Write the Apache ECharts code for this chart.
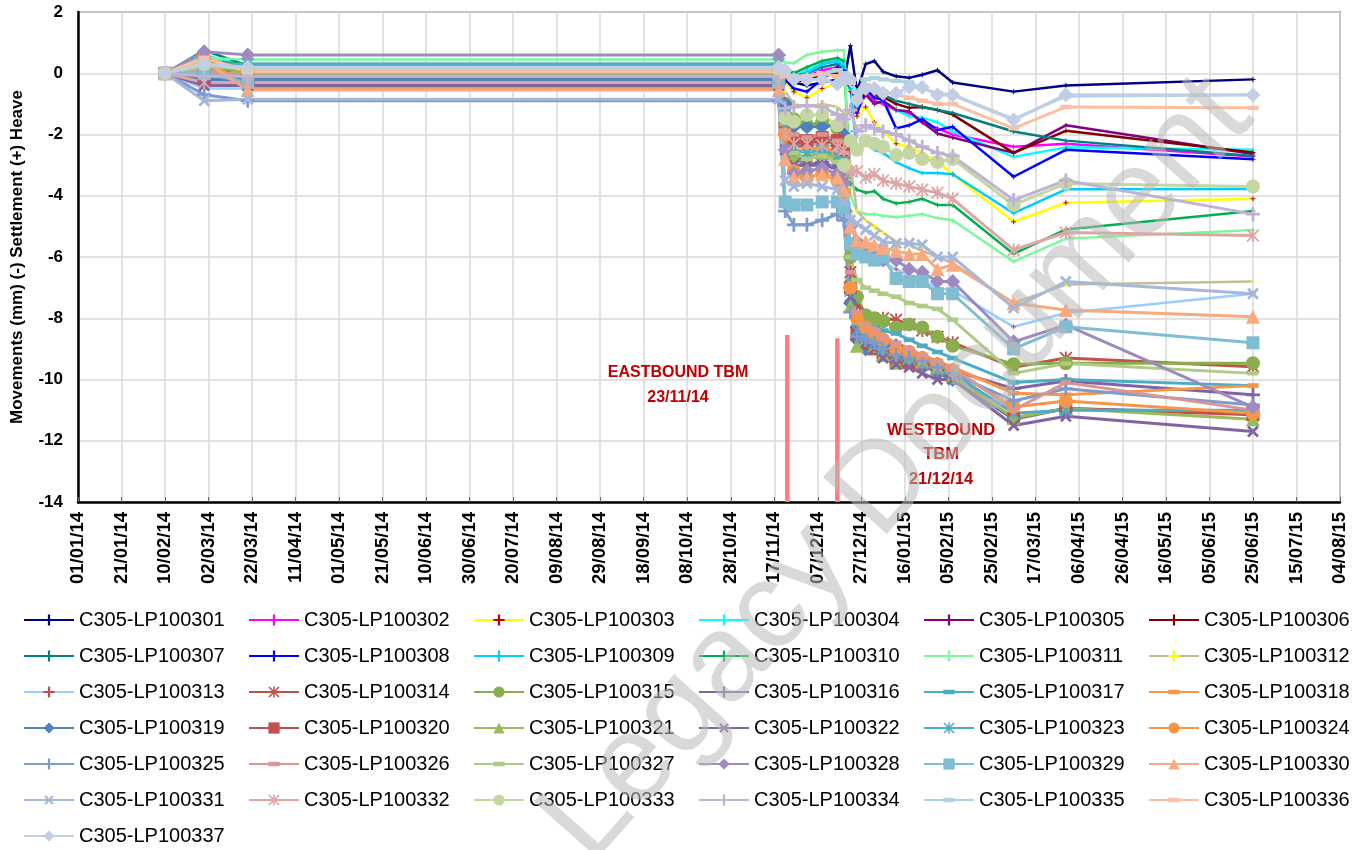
<!DOCTYPE html>
<html>
<head>
<meta charset="utf-8">
<script src="https://cdn.jsdelivr.net/npm/echarts@6/dist/echarts.min.js"></script>
<style>
  html, body { margin: 0; padding: 0; background: #fff; }
  #main { width: 1366px; height: 850px; }
</style>
</head>
<body>
<div id="main"></div>
<script>
// reading dates (shared by all points)
var dates = ['2014-02-10','2014-02-28','2014-03-20','2014-11-19','2014-11-22','2014-11-26','2014-12-02',
  '2014-12-09','2014-12-16','2014-12-19','2014-12-22','2014-12-25','2014-12-29','2015-01-02','2015-01-06',
  '2015-01-12','2015-01-18','2015-01-24','2015-01-31','2015-02-07','2015-03-07','2015-03-31','2015-06-25'];

// movements (mm), one array per levelling point
var lp301 = [0, 0.1, -0.05, -0.05, -0.1, -0.3, -0.4, -0.3, -0.2, -0.3, 0.9, -0.6, 0.3, 0.4, 0.05, -0.1, -0.15, -0.05, 0.1, -0.3, -0.6, -0.4, -0.2];
var lp302 = [0, 0.2, 0.1, 0.1, 0.0, -0.2, -0.1, 0.1, 0.2, 0.1, -0.3, -1.3, -0.6, -0.9, -1.0, -1.2, -1.3, -1.6, -1.8, -2.0, -2.4, -2.3, -2.72];
var lp303 = [0, 0.3, 0.0, 0.0, -0.3, -0.6, -0.8, -0.5, -0.3, -0.2, -0.6, -1.4, -1.1, -1.6, -1.9, -2.3, -2.4, -2.6, -2.9, -3.3, -4.85, -4.23, -4.1];
var lp304 = [0, 0.6, 0.2, 0.2, 0.1, -0.1, 0.1, 0.3, 0.4, 0.3, -0.2, -1.1, -0.4, -0.7, -0.9, -1.2, -1.4, -1.45, -1.6, -1.9, -2.73, -2.42, -2.5];
var lp305 = [0, 0.4, 0.15, 0.15, 0.0, -0.2, -0.1, 0.0, 0.1, 0.0, -0.4, -1.2, -0.7, -1.0, -0.9, -1.2, -1.25, -1.6, -1.97, -2.1, -2.6, -1.7, -2.64];
var lp306 = [0, 0.3, 0.05, 0.05, -0.1, -0.3, -0.2, -0.1, 0.0, -0.1, -0.5, -1.0, -0.6, -0.7, -0.77, -1.0, -1.13, -1.1, -1.2, -1.35, -2.6, -1.88, -2.59];
var lp307 = [0, 0.75, 0.25, 0.25, 0.1, -0.1, 0.0, 0.2, 0.3, 0.2, -0.2, -0.9, -0.5, -0.6, -0.7, -0.9, -1.0, -1.1, -1.2, -1.3, -1.9, -2.2, -2.7];
var lp308 = [0, 0.2, -0.1, -0.1, -0.2, -0.5, -0.6, -0.2, 0.2, 0.1, -0.3, -1.3, -0.5, -0.8, -0.87, -1.8, -1.7, -1.5, -1.85, -1.75, -3.38, -2.5, -2.81];
var lp309 = [0, 0.5, 0.15, 0.15, 0.0, -0.2, 0.0, 0.3, 0.4, 0.2, -0.5, -2.57, -2.3, -2.5, -2.6, -2.9, -3.1, -3.26, -3.26, -3.3, -4.57, -3.79, -3.78];
var lp310 = [0, 0.4, 0.3, 0.3, 0.2, 0.0, 0.2, 0.4, 0.5, 0.4, -3.6, -3.8, -3.9, -3.85, -4.1, -4.25, -4.2, -4.1, -4.3, -4.3, -5.9, -5.1, -4.5];
var lp311 = [0, 0.5, 0.45, 0.45, 0.35, 0.33, 0.6, 0.7, 0.75, 0.75, -4.0, -4.5, -4.6, -4.6, -4.65, -4.7, -4.65, -4.6, -4.73, -4.8, -6.15, -5.4, -5.12];
var lp312 = [0, -0.3, -0.3, -0.3, -0.6, -1.0, -1.1, -1.0, -1.1, -1.3, -3.0, -4.5, -4.8, -5.0, -5.2, -5.5, -5.6, -5.8, -6.0, -6.2, -7.5, -6.9, -6.8];
var lp313 = [0, -0.5, -0.5, -0.5, -1.5, -2.5, -2.8, -2.7, -2.9, -3.2, -4.5, -5.5, -5.8, -6.0, -6.2, -6.4, -6.6, -6.8, -7.0, -7.1, -8.28, -7.83, -7.2];
var lp314 = [0, -0.2, -0.2, -0.2, -1.8, -2.2, -2.3, -2.2, -2.3, -2.6, -6.5, -7.5, -8.0, -8.1, -8.0, -8.05, -8.2, -8.4, -8.6, -8.8, -9.6, -9.3, -9.58];
var lp315 = [0, 0.1, 0.1, 0.1, -1.0, -1.5, -1.7, -1.6, -1.8, -2.3, -6.0, -7.3, -7.9, -8.0, -8.1, -8.3, -8.2, -8.3, -8.6, -8.9, -9.5, -9.47, -9.47];
var lp316 = [0, -0.3, -0.3, -0.3, -2.0, -2.8, -3.0, -2.9, -3.1, -3.4, -7.0, -8.3, -8.4, -8.5, -8.7, -8.9, -9.1, -9.3, -9.5, -9.7, -10.3, -10.05, -10.5];
var lp317 = [0, 0.2, 0.2, 0.2, -1.2, -2.0, -2.2, -2.1, -2.3, -2.7, -6.8, -8.0, -8.3, -8.3, -8.4, -8.5, -8.7, -8.9, -9.1, -9.3, -10.1, -10.0, -10.2];
var lp318 = [0, 0.5, -0.5, -0.5, -1.5, -2.3, -2.5, -2.4, -2.6, -3.0, -7.2, -8.4, -8.6, -8.7, -8.8, -9.0, -9.2, -9.3, -9.5, -9.6, -10.45, -10.5, -10.2];
var lp319 = [0, -0.2, -0.2, -0.2, -1.0, -1.75, -1.75, -1.75, -1.7, -2.0, -7.5, -8.7, -9.0, -8.7, -8.9, -9.2, -9.3, -9.5, -9.8, -10.0, -11.3, -10.95, -11.1];
var lp320 = [0, -0.1, -0.1, -0.1, -1.8, -2.2, -2.2, -2.1, -2.2, -2.5, -7.0, -8.5, -8.8, -9.0, -9.2, -9.45, -9.45, -9.5, -9.7, -9.9, -11.27, -10.95, -11.15];
var lp321 = [0, 0.0, 0.0, 0.0, -1.5, -2.7, -2.7, -2.6, -2.8, -3.2, -7.6, -8.9, -8.7, -8.9, -9.2, -9.45, -9.3, -9.4, -9.6, -9.9, -11.25, -10.95, -11.3];
var lp322 = [0, -0.4, -0.4, -0.4, -2.5, -3.0, -3.0, -3.0, -3.1, -3.4, -7.3, -8.6, -8.8, -9.0, -9.3, -9.5, -9.6, -9.8, -10.0, -10.0, -11.5, -11.2, -11.7];
var lp323 = [0, 0.3, 0.3, 0.3, -1.7, -2.5, -2.6, -2.5, -2.7, -3.1, -7.1, -8.4, -8.6, -8.8, -9.0, -9.2, -9.3, -9.5, -9.7, -9.8, -11.1, -11.0, -11.0];
var lp324 = [0, 0.5, 0.1, 0.1, -2.0, -3.2, -3.4, -3.3, -3.5, -3.9, -7.0, -8.0, -8.3, -8.5, -8.7, -9.0, -9.1, -9.3, -9.5, -9.7, -10.9, -10.7, -11.1];
var lp325 = [0, -0.7, -0.9, -0.9, -4.5, -4.95, -4.95, -4.8, -4.6, -4.8, -7.8, -8.6, -8.7, -8.8, -9.0, -9.2, -9.3, -9.4, -9.6, -9.8, -10.7, -10.3, -10.83];
var lp326 = [0, 0.1, -0.1, -0.1, -1.3, -2.0, -2.1, -2.0, -2.2, -2.6, -6.5, -7.8, -8.2, -8.4, -8.6, -8.8, -9.0, -9.2, -9.4, -9.6, -11.0, -10.1, -11.0];
var lp327 = [0, 0.2, 0.2, 0.2, -1.4, -2.6, -2.8, -2.7, -2.9, -3.2, -6.0, -6.75, -7.0, -7.1, -7.2, -7.3, -7.5, -7.6, -7.7, -8.05, -9.8, -9.48, -9.8];
var lp328 = [0, 0.7, 0.6, 0.6, -2.5, -3.27, -3.2, -3.1, -3.3, -3.6, -5.0, -5.5, -5.7, -5.9, -6.1, -6.1, -6.4, -6.5, -6.8, -6.8, -8.77, -8.22, -10.9];
var lp329 = [0, 0.0, -0.3, -0.3, -4.2, -4.3, -4.3, -4.2, -4.2, -4.4, -5.56, -5.9, -6.0, -6.1, -6.0, -6.7, -6.8, -6.8, -7.2, -7.2, -9.0, -8.28, -8.8];
var lp330 = [0, 0.4, -0.55, -0.55, -2.8, -3.4, -3.4, -3.3, -3.4, -3.8, -5.0, -5.45, -5.5, -5.6, -5.7, -5.8, -5.9, -5.9, -6.4, -6.25, -7.5, -7.73, -7.95];
var lp331 = [0, -0.9, -0.85, -0.85, -3.5, -3.7, -3.6, -3.7, -3.8, -4.2, -4.8, -4.9, -5.1, -5.3, -5.5, -5.55, -5.55, -5.6, -6.0, -6.0, -7.67, -6.8, -7.2];
var lp332 = [0, -0.3, -0.3, -0.3, -2.0, -2.3, -2.3, -2.35, -2.4, -2.5, -3.2, -3.2, -3.4, -3.3, -3.5, -3.6, -3.7, -3.8, -3.9, -4.1, -5.77, -5.2, -5.3];
var lp333 = [0, 0.3, 0.1, 0.1, -1.46, -1.58, -1.36, -1.36, -1.7, -3.0, -2.2, -2.5, -2.2, -2.3, -2.4, -2.67, -2.6, -2.8, -2.9, -2.8, -4.3, -3.6, -3.7];
var lp334 = [0, -0.1, -0.1, -0.1, -1.15, -1.1, -1.05, -1.1, -1.35, -1.5, -1.2, -1.9, -1.7, -1.8, -1.9, -2.0, -2.2, -2.4, -2.6, -2.7, -4.14, -3.5, -4.6];
var lp335 = [0, 0.3, 0.15, 0.15, 0.0, -0.1, -0.1, 0.0, 0.1, 0.0, -0.3, -0.6, -0.2, -0.15, -0.2, -0.25, -0.3, -0.5, -0.65, -0.7, -1.5, -0.75, -0.7];
var lp336 = [0, 0.5, 0.05, 0.05, -0.1, -0.2, -0.1, 0.0, -0.1, -0.2, -0.3, -0.8, -0.4, -0.5, -0.6, -0.7, -0.8, -0.9, -1.0, -1.0, -1.8, -1.1, -1.13];
var lp337 = [0, 0.3, 0.2, 0.2, 0.1, -0.2, -0.2, -0.2, -0.35, -0.2, -0.2, -0.88, -0.5, -0.5, -0.65, -0.65, -0.46, -0.46, -0.71, -0.71, -1.53, -0.7, -0.71];

var names = ['C305-LP100301','C305-LP100302','C305-LP100303','C305-LP100304','C305-LP100305','C305-LP100306',
  'C305-LP100307','C305-LP100308','C305-LP100309','C305-LP100310','C305-LP100311','C305-LP100312',
  'C305-LP100313','C305-LP100314','C305-LP100315','C305-LP100316','C305-LP100317','C305-LP100318',
  'C305-LP100319','C305-LP100320','C305-LP100321','C305-LP100322','C305-LP100323','C305-LP100324',
  'C305-LP100325','C305-LP100326','C305-LP100327','C305-LP100328','C305-LP100329','C305-LP100330',
  'C305-LP100331','C305-LP100332','C305-LP100333','C305-LP100334','C305-LP100335','C305-LP100336',
  'C305-LP100337'];
var values = [lp301, lp302, lp303, lp304, lp305, lp306, lp307, lp308, lp309, lp310, lp311, lp312, lp313,
  lp314, lp315, lp316, lp317, lp318, lp319, lp320, lp321, lp322, lp323, lp324, lp325, lp326, lp327,
  lp328, lp329, lp330, lp331, lp332, lp333, lp334, lp335, lp336, lp337];

// TBM passage markers
var tbmDates = ['2014-11-23', '2014-12-16'];
var tbmTop = [-8.55, -8.65];

// look of each series
var colors = ['#000080','#FF00FF','#FFFF00','#00FFFF','#800080','#800000','#008080','#0000FF','#00CCFF',
  '#00B050','#7CF89A','#C4BD97','#99CCFF','#C0504D','#8AAE4E','#8064A2','#4BACC6','#F79646','#4F81BD',
  '#C0504D','#9BBB59','#8064A2','#4BACC6','#F79646','#7E9CCB','#D99694','#AFCB85','#9D8BC0','#80BDD2',
  '#F8A97E','#A5B7DB','#DDA6A4','#C4D7A2','#BFB2D3','#ADD3E0','#F9C1A3','#C3CEE4'];

var PLUS = 'path://M4,0H6V4H10V6H6V10H4V6H0V4H4Z';
var STAR = 'path://M0,1L1,0L10,9L9,10Z M9,0L10,1L1,10L0,9Z M4.3,0H5.7V10H4.3Z';
// short bar inside a 10x10 box (tiny corner specks keep the box square)
var DASH = 'path://M0,0L0.01,0L0,0.01Z M10,10L9.99,10L10,9.99Z M0,3H10V7H0Z';
var cycle = ['star','circle','plus','dash','dash','diamond','rect','triangle','x'];

var day0 = Date.UTC(2014, 0, 1);
function dayOf(s) {
  return (Date.UTC(+s.slice(0, 4), +s.slice(5, 7) - 1, +s.slice(8, 10)) - day0) / 86400000;
}
function two(n) { return (n < 10 ? '0' : '') + n; }
function fmtDay(v) {
  var d = new Date(day0 + v * 86400000);
  return two(d.getUTCDate()) + '/' + two(d.getUTCMonth() + 1) + '/' + String(d.getUTCFullYear()).slice(2);
}

var series = names.map(function (name, i) {
  var mk = i < 13 ? 'small' : cycle[(i - 13) % 9];
  var sym = 'circle', size = 13, rot = 0;
  if (mk === 'small') { sym = PLUS; size = 5; }
  else if (mk === 'star') { sym = STAR; size = 13; }
  else if (mk === 'plus') { sym = PLUS; size = 14; }
  else if (mk === 'x') { sym = PLUS; size = 14; rot = 45; }
  else if (mk === 'dash') { sym = DASH; size = 11; }
  else if (mk === 'circle') { sym = 'circle'; size = 14; }
  else if (mk === 'rect') { sym = 'rect'; size = 13; }
  else if (mk === 'triangle') { sym = 'triangle'; size = 14; }
  else if (mk === 'diamond') { sym = 'diamond'; size = 15; }
  var markColor = colors[i];
  if (i === 2) markColor = '#C00000';
  if (i === 11) markColor = '#FFFF00';
  if (i === 12) markColor = '#C0504D';
  return {
    name: name,
    type: 'line',
    data: dates.map(function (d, k) { return [dayOf(d), values[i][k]]; }),
    symbol: sym,
    symbolSize: size,
    symbolRotate: rot,
    symbolKeepAspect: true,
    showSymbol: true,
    lineStyle: { color: colors[i], width: i < 13 ? 2.5 : 3 },
    itemStyle: { color: markColor },
    emphasis: { disabled: true },
    animation: false
  };
});

tbmDates.forEach(function (d, i) {
  series.push({
    name: 'tbm' + i,
    type: 'line',
    data: [[dayOf(d), tbmTop[i]], [dayOf(d), -14]],
    symbol: 'none',
    silent: true,
    lineStyle: { color: '#FF7C80', width: 4.5 },
    animation: false
  });
});

var chart = echarts.init(document.getElementById('main'));
chart.setOption({
  animation: false,
  textStyle: { fontFamily: 'Liberation Sans' },
  grid: {
    left: 78, top: 12, right: 26, bottom: 348,
    show: true, borderColor: '#8c8c8c', borderWidth: 2
  },
  xAxis: {
    type: 'value', min: 0, max: 580, interval: 20,
    axisLine: { onZero: false, lineStyle: { color: '#000', width: 2.5 } },
    axisTick: { show: true, inside: true, length: 5, lineStyle: { color: '#666' } },
    splitLine: { show: true, lineStyle: { color: '#d9d9d9', width: 1.5 } },
    axisLabel: {
      rotate: 90, margin: 10, color: '#000', fontSize: 18.5, fontWeight: 'bold',
      fontFamily: 'Liberation Sans', formatter: fmtDay
    }
  },
  yAxis: {
    type: 'value', min: -14, max: 2, interval: 2,
    name: 'Movements (mm) (-) Settlement (+) Heave',
    nameLocation: 'middle', nameRotate: 90, nameGap: 52,
    nameTextStyle: { color: '#000', fontSize: 17, fontWeight: 'bold', fontFamily: 'Liberation Sans' },
    axisLine: { show: true, lineStyle: { color: '#000', width: 2.5 } },
    axisTick: { show: false },
    splitLine: { show: true, lineStyle: { color: '#d9d9d9', width: 1.5 } },
    axisLabel: { margin: 15, color: '#000', fontSize: 17, fontWeight: 'bold', fontFamily: 'Liberation Sans' }
  },
  legend: {
    data: names,
    left: 23, top: 610, right: 0, padding: 0,
    itemWidth: 50, itemHeight: 14, itemGap: 16,
    selectedMode: false,
    textStyle: { fontSize: 20, color: '#000', width: 153, lineHeight: 20, fontFamily: 'Liberation Sans' }
  },
  graphic: [
    {
      type: 'text', left: 603, top: 360, z: 50,
      style: {
        text: 'EASTBOUND TBM\n23/11/14', fill: '#C00000', font: 'bold 16px Liberation Sans',
        textAlign: 'center', lineHeight: 25, width: 150
      }
    },
    {
      type: 'text', left: 882, top: 418, z: 50,
      style: {
        text: 'WESTBOUND\nTBM\n21/12/14', fill: '#C00000', font: 'bold 16.5px Liberation Sans',
        textAlign: 'center', lineHeight: 24.5, width: 118
      }
    },
    {
      type: 'text', x: 898, y: 470, rotation: 0.843, z: 100, silent: true,
      style: {
        text: 'Legacy Document', fill: 'rgba(185,185,185,0.55)', font: '124px Liberation Sans',
        align: 'center', verticalAlign: 'middle'
      }
    }
  ],
  series: series
});
</script>
</body>
</html>
